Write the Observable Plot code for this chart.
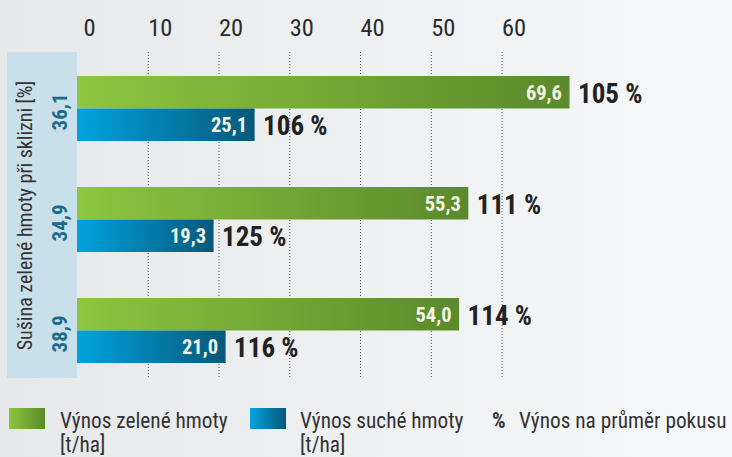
<!DOCTYPE html>
<html><head><meta charset="utf-8">
<script src="https://cdn.jsdelivr.net/npm/d3@7"></script>
<script src="https://cdn.jsdelivr.net/npm/@observablehq/plot@0.6"></script>
<style>
body{margin:0;width:732px;height:457px;overflow:hidden;position:relative;
 background:linear-gradient(to right,#e7e8ea,#f7f8f9);
 font-family:"Roboto Condensed","Roboto",sans-serif;color:#333}
#panel{position:absolute;left:7px;top:52px;width:70px;height:326px;background:#c9dfea}
#chart{position:absolute;left:0;top:0}
.sw{position:absolute;width:36px;height:21px}
.lt{position:absolute;font-size:21.3px;line-height:24px;color:#333}
</style></head>
<body>
<div id="panel"></div>
<div id="chart"></div>
<div class="sw" style="left:9px;top:408px;background:linear-gradient(to right,#8dc63f,#5a8a2b)"></div>
<div class="lt" style="left:60px;top:409px">Výnos zelené hmoty<br>[t/ha]</div>
<div class="sw" style="left:250px;top:408px;background:linear-gradient(to right,#00a3df,#07587a)"></div>
<div class="lt" style="left:300px;top:409px">Výnos suché hmoty<br>[t/ha]</div>
<div class="lt" style="left:492px;top:409px;font-weight:bold">%</div>
<div class="lt" style="left:519px;top:409px">Výnos na průměr pokusu</div>
<script>
const groups = ["36,1", "34,9", "38,9"];      // sušina při sklizni [%]
const greenYield = [69.6, 55.3, 54.0];         // výnos zelené hmoty [t/ha]
const dryYield = [25.1, 19.3, 21.0];           // výnos suché hmoty [t/ha]
const greenPct = [105, 111, 114];              // % průměru pokusu
const dryPct = [106, 125, 116];
const ticks = [0, 10, 20, 30, 40, 50, 60];
const yTitle = "Sušina zelené hmoty při sklizni [%]";

const data = groups.map((g, i) => ({group: g, green: greenYield[i], dry: dryYield[i], gp: greenPct[i], dp: dryPct[i]}));
const fmt = v => v.toFixed(1).replace(".", ",");
const FONT = '"Roboto Condensed","Roboto",sans-serif';

const half = 32.5;
const svg = Plot.plot({
  width: 732, height: 395,
  marginTop: 52, marginBottom: 17, marginLeft: 77, marginRight: 4,
  style: {background: "transparent", fontFamily: FONT, fontSize: "20px", overflow: "visible"},
  x: {domain: [0, 92], axis: null},
  y: {domain: groups, paddingInner: 0.417, paddingOuter: 0.17, align: 0.62, axis: null},
  marks: [
    Plot.ruleX(ticks.filter(t => t > 0), {stroke: "#555", strokeDasharray: "1,2", strokeWidth: 1}),
    Plot.axisX(ticks, {anchor: "top", tickSize: 0, tickPadding: 17, fontSize: 24.5, fill: "#2b2b2b", dx: 12, label: null}),
    Plot.barX(data, {y: "group", x: "green", fill: "url(#gGreen)", insetBottom: half}),
    Plot.barX(data, {y: "group", x: "dry", fill: "url(#gBlue)", insetTop: half}),
    Plot.text(data, {y: "group", x: "green", text: d => fmt(d.green), textAnchor: "end", dx: -8, dy: -16, fill: "#f3f4e6", fontWeight: "bold", fontSize: 20.5}),
    Plot.text(data, {y: "group", x: "dry", text: d => fmt(d.dry), textAnchor: "end", dx: -8, dy: 16, fill: "#f3f4e6", fontWeight: "bold", fontSize: 20.5}),
    Plot.text(data, {y: "group", x: "green", text: d => d.gp + " %", textAnchor: "start", dx: 8, dy: -15, fill: "#222", fontWeight: "bold", fontSize: 27}),
    Plot.text(data, {y: "group", x: "dry", text: d => d.dp + " %", textAnchor: "start", dx: 8, dy: 17, fill: "#222", fontWeight: "bold", fontSize: 27}),
    Plot.text(data, {y: "group", text: "group", frameAnchor: "left", textAnchor: "middle", dx: -17, dy: 3, rotate: -90, fill: "#1a6b8c", fontWeight: "bold", fontSize: 21}),
    Plot.text([yTitle], {frameAnchor: "left", textAnchor: "middle", dx: -52, rotate: -90, fill: "#333", fontSize: 20})
  ]
});

const defs = d3.select(svg).insert("defs", ":first-child");
function grad(id, a, b) {
  const g = defs.append("linearGradient").attr("id", id).attr("x1", "0").attr("x2", "1").attr("y1", "0").attr("y2", "0");
  g.append("stop").attr("offset", "0").attr("stop-color", a);
  g.append("stop").attr("offset", "1").attr("stop-color", b);
}
grad("gGreen", "#8dc63f", "#5a8a2b");
grad("gBlue", "#00a3df", "#07587a");
document.getElementById("chart").appendChild(svg);
</script>
</body></html>
